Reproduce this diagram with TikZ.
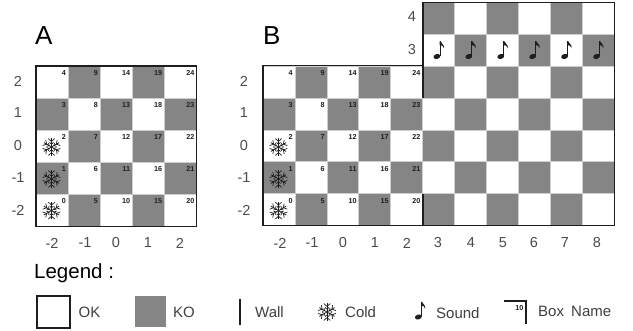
\documentclass[tikz,border=0pt]{standalone}
\usepackage{fontspec}
\setmainfont{Liberation Sans}
\definecolor{ko}{HTML}{858585}
\definecolor{grid}{HTML}{CFCFCF}
\definecolor{ink}{HTML}{1E1E1E}
\tikzset{
  okcell/.style={fill=white,draw=grid,line width=0.7pt},
  kocell/.style={fill=ko,draw=grid,line width=0.7pt},
  wallline/.style={draw=ink,line width=1.3pt,line cap=butt},
  axislabel/.style={font=\fontsize{14.5}{16}\selectfont,text=black!70,inner sep=0pt},
  boxnum/.style={font=\fontsize{7.2}{8}\selectfont\bfseries,text=ink,inner sep=0pt,anchor=east},
  title/.style={font=\fontsize{26}{28}\selectfont,text=black,inner sep=0pt,anchor=base west},
  legendtext/.style={font=\fontsize{15}{17}\selectfont,text=black!75,inner sep=0pt,anchor=west},
  flake/.pic={
    \foreach \a in {0,60,...,300}{
      \begin{scope}[rotate=\a+90]
      \draw[ink,line width=0.8pt] (0,0) -- (8.8,0);
      \draw[ink,line width=0.7pt] (8.4,-3.2) -- (5.6,0) -- (8.4,3.2);
      \draw[ink,line width=0.7pt] (4.6,-2) -- (2.8,0) -- (4.6,2);
      \end{scope}
    }
  },
  musicnote/.pic={
    \fill[ink,rotate around={15:(-1.7,6)}] (-1.7,6) ellipse (3.5 and 2.4);
    \draw[ink,line width=1pt] (1.4,6) -- (1.4,-9);
    \fill[ink] (1,-9.2) -- (2,-9.2) .. controls (2.6,-5.5) and (6.4,-6.4) .. (5,-2.2)
      .. controls (5.2,-4.8) and (3,-5.2) .. (1,-5.4) -- cycle;
  }
}
\begin{document}
\begin{tikzpicture}[x=1pt,y=-1pt]
\useasboundingbox (0,0) rectangle (633,331);
\fill[white] (0,0) rectangle (633,331);

% --- Grid A
\def\ax{36}\def\ay{226.4}\def\ac{32.1}
\foreach \i in {0,...,4}{
  \foreach \j in {0,...,4}{
    \pgfmathtruncatemacro{\odd}{mod(\i+\j,2)}
    \pgfmathtruncatemacro{\num}{5*\i+\j}
    \pgfmathsetmacro{\xl}{\ax+\i*\ac}
    \pgfmathsetmacro{\xr}{\xl+\ac}
    \pgfmathsetmacro{\yb}{\ay-\j*\ac}
    \pgfmathsetmacro{\yt}{\yb-\ac}
    \ifnum\odd=1 \path[kocell] (\xl,\yt) rectangle (\xr,\yb);
    \else \path[okcell] (\xl,\yt) rectangle (\xr,\yb); \fi
    \node[boxnum] (a\num) at (\xr-2,\yt+7) {\num};
  }
}
\draw[wallline] (36,66) rectangle (196.5,226.4);

% --- Grid B
\def\bx{263}\def\by{225.7}\def\bc{31.93}
\foreach \i in {0,...,10}{
  \foreach \j in {0,...,6}{
    \pgfmathtruncatemacro{\show}{(\i>4 || \j<5) ? 1 : 0}
    \ifnum\show=1
      \pgfmathtruncatemacro{\odd}{mod(\i+\j,2)}
      \pgfmathsetmacro{\xl}{\bx+\i*\bc}
      \pgfmathsetmacro{\xr}{\xl+\bc}
      \pgfmathsetmacro{\yb}{\by-\j*\bc}
      \pgfmathsetmacro{\yt}{\yb-\bc}
      \ifnum\odd=1 \path[kocell] (\xl,\yt) rectangle (\xr,\yb);
      \else \path[okcell] (\xl,\yt) rectangle (\xr,\yb); \fi
    \fi
  }
}
\foreach \i in {0,...,4}{
  \foreach \j in {0,...,4}{
    \pgfmathtruncatemacro{\num}{5*\i+\j}
    \node[boxnum] (b\num) at (\bx+\i*\bc+\bc-2,\by-\j*\bc-\bc+7) {\num};
  }
}
\draw[wallline] (263,65.8) -- (423,65.8) -- (423,2.7) -- (614.3,2.7) -- (614.3,225.7) -- (263,225.7) -- cycle;
\draw[wallline] (423,65.8) -- (423,97.7);
\draw[wallline] (423,193.8) -- (423,225.7);

% --- Icons
\foreach \y in {147,179,210.6}{
  \pic at (51.5,\y) {flake};
  \pic at (278.5,\y) {flake};
}
\foreach \i in {5,...,10}{
  \pic at (\bx+\i*\bc+\bc/2,50.5) {musicnote};
}

% --- Axis labels
\foreach \t/\x in {-2/52,-1/85,0/116,1/148,2/180}{
  \node[axislabel] (ax\t) at (\x,243) {\t};
}
\foreach \t/\y in {2/81,1/113,0/146,-1/178,-2/210}{
  \node[axislabel] (ay\t) at (18,\y) {\t};
  \node[axislabel] (by\t) at (244,\y) {\t};
}
\foreach \t/\x in {-2/280,-1/312,0/343,1/375,2/407,3/438,4/471,5/503,6/534,7/565,8/597}{
  \node[axislabel] (bx\t) at (\x,243) {\t};
}
\node[axislabel] (by4) at (412,17) {4};
\node[axislabel] (by3) at (412,50) {3};

% --- Titles
\node[title] (titleA) at (35,45) {A};
\node[title] (titleB) at (263,45) {B};

% --- Legend
\node[title,font=\fontsize{20.5}{22}\selectfont] (legend) at (34,279) {Legend :};
\draw[wallline] (37,296) rectangle (70,328);
\node[legendtext] (ok) at (78.5,312) {OK};
\fill[ko] (135,296) rectangle (166,327);
\node[legendtext] (koT) at (173,312) {KO};
\draw[wallline] (240,299) -- (240,325);
\node[legendtext] (wall) at (255,312) {Wall};
\pic at (327,312) {flake};
\node[legendtext] (cold) at (345,312) {Cold};
\pic at (420,311) {musicnote};
\node[legendtext] (sound) at (436,313) {Sound};
\draw[wallline] (504,301) -- (526,301) -- (526,324);
\node[boxnum] (boxten) at (523.5,308) {10};
\node[legendtext] (boxname) at (538,311) {Box\hspace{3pt} Name};
\end{tikzpicture}
\end{document}
